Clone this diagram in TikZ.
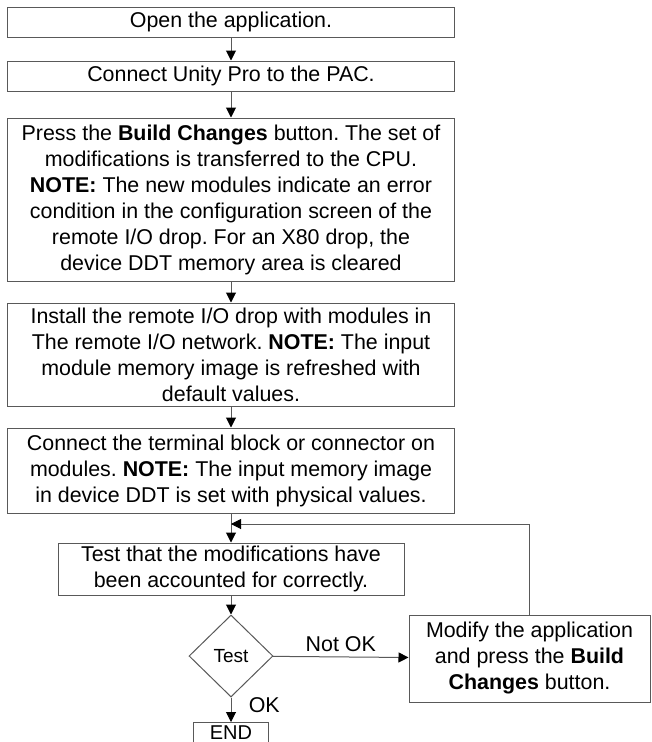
\documentclass[tikz,border=0pt]{standalone}
\usepackage{fontspec}
\setmainfont{Liberation Sans}
\frenchspacing
\usetikzlibrary{arrows.meta,shapes.geometric}
\begin{document}
\begin{tikzpicture}[x=1pt,y=-1pt,
  every node/.style={font=\fontsize{21.4}{26}\selectfont},
  box/.style={draw=black!65,line width=1pt,inner sep=0pt,align=center,minimum width=447pt},
  arr/.style={draw=black!65,line width=1pt,-{Triangle[length=10pt,width=10pt,color=black]}},
  ln/.style={draw=black!65,line width=1pt}]
\useasboundingbox (0,0) rectangle (652,742);
\fill[white] (0,0) rectangle (652,742);
\node[box,minimum height=30pt] (b1) at (231,22) {Open the application.};
\node[box,minimum height=30pt] (b2) at (231,76) {Connect Unity Pro to the PAC.};
\node[box,minimum height=163pt] (b3) at (231,199.5) {Press the \textbf{Build Changes} button. The set of\\modifications is transferred to the CPU.\\\textbf{NOTE:} The new modules indicate an error\\condition in the configuration screen of the\\remote I/O drop. For an X80 drop, the\\device DDT memory area is cleared};
\node[box,minimum height=103pt] (b4) at (231,354.5) {Install the remote I/O drop with modules in\\The remote I/O network. \textbf{NOTE:} The input\\module memory image is refreshed with\\default values.};
\node[box,minimum height=85pt] (b5) at (231,470.5) {Connect the terminal block or connector on\\modules. \textbf{NOTE:} The input memory image\\in device DDT is set with physical values.};
\node[box,minimum width=346pt,minimum height=52pt] (b6) at (231,569) {Test that the modifications have\\been accounted for correctly.};
\node[draw=black!65,line width=1pt,shape=diamond,inner sep=0pt,minimum width=84pt,minimum height=82pt,font=\fontsize{19}{22}\selectfont] (t) at (231,656) {Test};
\node[box,minimum width=241pt,minimum height=87pt] (m) at (529.5,658.5) {Modify the application\\and press the \textbf{Build}\\\textbf{Changes} button.};
\node[inner sep=0pt,minimum width=75pt,text height=14.5pt,text depth=0pt,anchor=north,font=\fontsize{20}{24}\selectfont] (e) at (231,724.5) {END};
\coordinate (etop) at (231,722);
\draw[ln] ([yshift=-30pt]e.north west) -- ([yshift=2.5pt]e.north west) -- ([yshift=2.5pt]e.north east) -- ([yshift=-30pt]e.north east);
\coordinate (lp) at (231,524);
\draw[arr] (b1) -- (b2);
\draw[arr] (b2) -- (b3);
\draw[arr] (b3) -- (b4);
\draw[arr] (b4) -- (b5);
\draw[arr] (b5) -- (b6);
\draw[arr] (b6) -- (t);
\draw[arr] (t) -- node[above=1pt,pos=0.5] (nok) {Not OK} (m);
\draw[arr] (t) -- node[right=14pt,pos=0.3] (ok) {OK} (etop);
\draw[arr] (m.north) |- (lp);
\end{tikzpicture}
\end{document}
